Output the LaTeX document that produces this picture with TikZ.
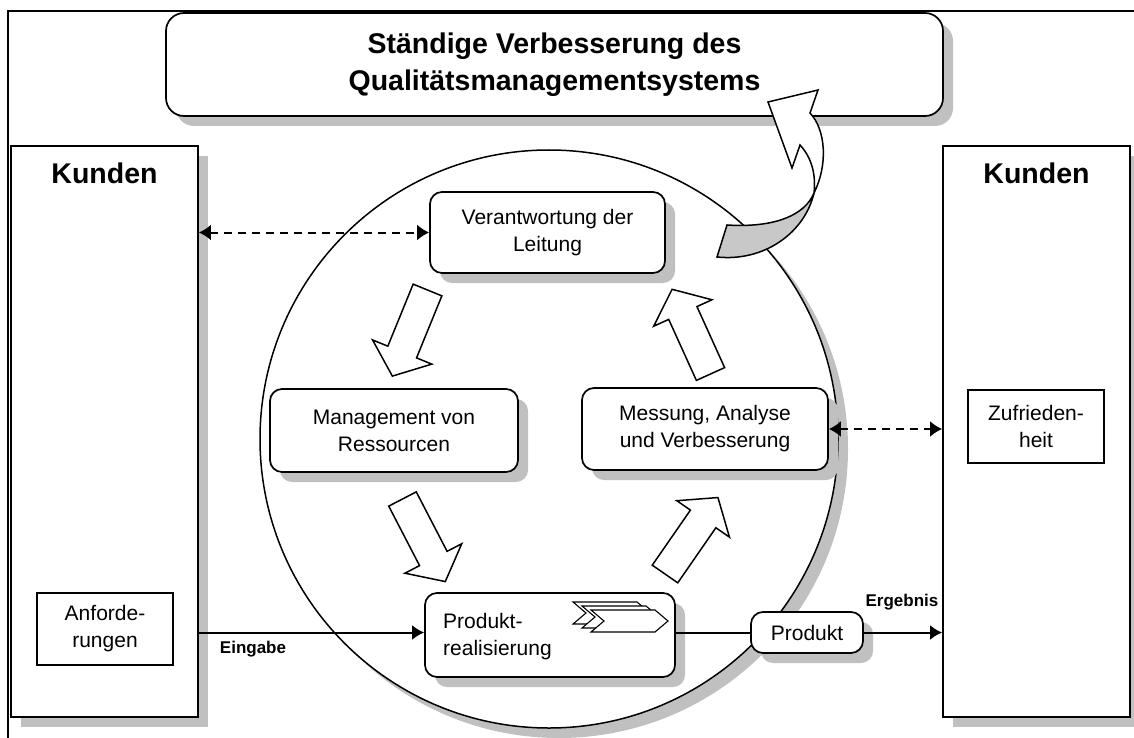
\documentclass[tikz,border=0pt]{standalone}
\usepackage{fontspec}
\setmainfont{Liberation Sans}
\usetikzlibrary{arrows.meta,shadows}
\definecolor{shadowgray}{HTML}{C0C0C0}
\definecolor{backgray}{HTML}{C8C8C8}
\newcommand{\headfont}{\fontsize{28.5}{37}\selectfont\bfseries}
\newcommand{\boxfont}{\fontsize{21}{27}\selectfont}
\newcommand{\tagfont}{\fontsize{17}{20}\selectfont\bfseries}
\tikzset{
  shade box/.style={drop shadow={shadow xshift=10pt,shadow yshift=-10pt,fill=shadowgray,opacity=1}},
  roundbox/.style={draw,line width=1.7pt,fill=white,rounded corners=12pt,inner sep=0pt,
    align=center,font=\boxfont,shade box},
  sharpbox/.style={draw,line width=1.8pt,fill=white,inner sep=0pt,shade box},
  plainbox/.style={draw,line width=1.5pt,fill=white,inner sep=0pt,align=center,font=\boxfont},
  dasharrow/.style={line width=2pt,dash pattern=on 8pt off 6pt,{Latex[length=12pt,width=16pt]}-{Latex[length=12pt,width=16pt]}},
  flowarrow/.style={line width=2pt,-{Latex[length=12pt,width=15pt]}},
  flowline/.style={line width=2pt},
  blockarrow/.pic={\draw[line width=1.5pt,fill=white,line join=miter]
    (0,-15.5) -- (67,-15.5) -- (67,-32) -- (93,0) -- (67,32) -- (67,15.5) -- (0,15.5) -- cycle;},
  chevron/.pic={\draw[line width=1.1pt,fill=white,line join=miter]
    (0,0) -- (64,0) -- (77,11) -- (64,22) -- (0,22) -- (13,11) -- cycle;}
}
\begin{document}
\begin{tikzpicture}[x=1pt,y=-1pt]
\useasboundingbox (0,0) rectangle (1134,738);

% page frame
\draw[line width=2.5pt] (8,738) -- (8,11) -- (1134,11);

% headline banner
\node[roundbox,rounded corners=18pt,minimum width=777pt,minimum height=103pt,
  font=\headfont] (banner) at (554.5,64.5)
  {Ständige Verbesserung des\\Qualitätsmanagementsystems};

% customer columns
\node[sharpbox,minimum width=187pt,minimum height=571pt] (kundenL) at (104.5,431.5) {};
\node[font=\headfont] (kundenLtitel) at (104.5,173) {Kunden};
\node[sharpbox,minimum width=187pt,minimum height=571pt] (kundenR) at (1036.5,431.5) {};
\node[font=\headfont] (kundenRtitel) at (1036.5,173) {Kunden};
\node[plainbox,minimum width=136pt,minimum height=72pt] (anf) at (105,629) {Anforde-\\rungen};
\node[plainbox,minimum width=136pt,minimum height=73pt] (zuf) at (1036,426.5) {Zufrieden-\\heit};

% process circle
\node[circle,draw,line width=1.5pt,fill=white,minimum size=578pt,inner sep=0pt,shade box]
  (kreis) at (549,439) {};

% process boxes
\node[roundbox,minimum width=235pt,minimum height=81pt] (vera) at (547.5,232.5)
  {Verantwortung der\\Leitung};
\node[roundbox,minimum width=248pt,minimum height=83pt] (mgmt) at (394,430.5)
  {Management von\\Ressourcen};
\node[roundbox,minimum width=246pt,minimum height=82pt] (mess) at (705,429)
  {Messung, Analyse\\und Verbesserung};
\node[roundbox,minimum width=250pt,minimum height=84pt] (prod) at (550,635) {};
\node[font=\boxfont,align=left,anchor=west,inner sep=0pt] (prodtext) at (443,637)
  {Produkt-\\realisierung};
\node[roundbox,minimum width=112pt,minimum height=41pt] (produkt) at (807,632.5) {Produkt};

% process icon
\pic at (573,602) {chevron};
\pic at (582,606) {chevron};
\pic at (591,610) {chevron};

% block arrows of the cycle
\pic[rotate=247.8] at (427.5,290) {blockarrow};
\pic[rotate=-62.6] at (402.5,499) {blockarrow};
\pic[rotate=55.3] at (665,574) {blockarrow};
\pic[rotate=114.4] at (710.5,374) {blockarrow};

% connectors
\draw[dasharrow] (kundenL.east |- vera.west) -- (vera.west);
\draw[dasharrow] (mess.east) -- (kundenR.west |- mess.east);
\draw[flowarrow] (kundenL.east |- produkt.west) -- (prod.west |- produkt.west);
\draw[flowline] (prod.east |- produkt.west) -- (produkt.west);
\draw[flowarrow] (produkt.east) -- (kundenR.west |- produkt.east);
\node[font=\tagfont] (eingabe) at (253,649) {Eingabe};
\node[font=\tagfont] (ergebnis) at (902,602) {Ergebnis};

% twisted improvement arrow
\draw[line width=1.5pt,fill=backgray,line join=miter]
  (814,193) .. controls (805,215) and (775,228) .. (727,225) -- (717,257)
  .. controls (765,262) and (805,232) .. (814,193) -- cycle;
\draw[line width=1.5pt,fill=white,line join=miter]
  (814,193) .. controls (828,165) and (826,130) .. (810,113) -- (818,90) -- (768,102)
  -- (792,168) -- (800,145) .. controls (812,158) and (816,175) .. (814,193) -- cycle;
\end{tikzpicture}
\end{document}
